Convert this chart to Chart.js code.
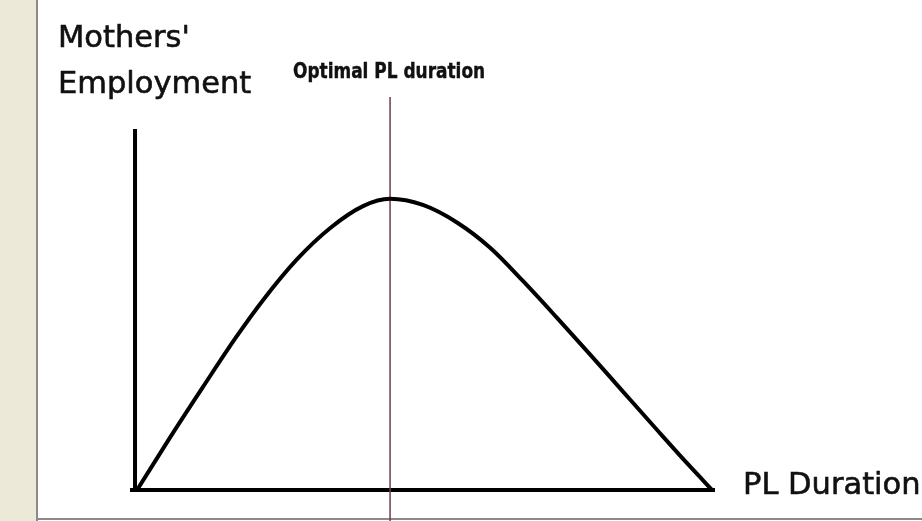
<!DOCTYPE html>
<html>
<head>
<meta charset="utf-8">
<script src="https://cdn.jsdelivr.net/npm/chart.js@4/dist/chart.umd.min.js"></script>
<style>
  html, body { margin: 0; padding: 0; background: #fff; }
  #frame { position: relative; width: 922px; height: 521px; overflow: hidden; background: #fff; }
  #strip { position: absolute; left: 0; top: 0; width: 36px; height: 521px; background: #ece9d9; border-right: 2px solid #8a8a8a; }
  #bottom { position: absolute; left: 36px; top: 518px; width: 886px; height: 2px; background: #8a8a8a; }
  #chart { position: absolute; left: 0; top: 0; }
  .lbl { position: absolute; white-space: nowrap; color: #111; line-height: 1; }
  .big { font-family: "DejaVu Sans", sans-serif; font-size: 30.5px; -webkit-text-stroke: 0.6px #111; }
  .opt { font-family: "DejaVu Sans Condensed", "DejaVu Sans", sans-serif; font-weight: bold; font-size: 22px; transform-origin: 0 0; -webkit-text-stroke: 0.4px #111; }
</style>
</head>
<body>
<div id="frame">
  <div id="strip"></div>
  <div id="bottom"></div>
  <canvas id="chart" width="922" height="521"></canvas>
  <div class="lbl big" style="left:58px; top:22px;">Mothers'</div>
  <div class="lbl big" style="left:58px; top:68px;">Employment</div>
  <div class="lbl opt" id="optLabel" style="left:293px; top:60px;">Optimal PL duration</div>
  <div class="lbl big" style="left:743px; top:469px;">PL Duration</div>
</div>
<script>
// curve: PL duration (0-100) vs mothers' employment (peak = 100)
const durations = [0, 5.7, 11.5, 17.2, 21.9, 27.8, 33.6, 39.3, 44, 49.7, 55.7, 61.4, 67.1, 73.0, 78.8, 84.5, 90.4, 96.2, 100];
const employment = [0, 17.9, 35.5, 52.4, 65.2, 79.2, 90.0, 97.5, 100, 97.9, 91.8, 83.2, 71.8, 59.2, 46.5, 33.8, 20.7, 8.0, 0];
const optimalDuration = 44;

// squeeze the narrow label to its width in the picture
const optLabel = document.getElementById("optLabel");
optLabel.style.transform = `scaleX(${192 / optLabel.offsetWidth})`;

// axes and the "optimal" marker line, drawn from the chart's own scales
const sketchAxes = {
  id: "sketchAxes",
  beforeDatasetsDraw(chart) {
    const { ctx, chartArea, scales } = chart;
    const x0 = scales.x.getPixelForValue(0);
    const y0 = scales.y.getPixelForValue(0);
    const xOpt = scales.x.getPixelForValue(optimalDuration);

    ctx.save();
    ctx.strokeStyle = "#000";
    ctx.lineWidth = 4;
    ctx.beginPath();
    ctx.moveTo(x0 - 2, chartArea.top);
    ctx.lineTo(x0 - 2, y0 + 2);
    ctx.moveTo(x0 - 7, y0);
    ctx.lineTo(chartArea.right, y0);
    ctx.stroke();

    ctx.strokeStyle = "#6e3d4c";
    ctx.lineWidth = 1.5;
    ctx.beginPath();
    ctx.moveTo(xOpt, chartArea.top - 32);
    ctx.lineTo(xOpt, chart.height);
    ctx.stroke();
    ctx.restore();
  },
};

new Chart(document.getElementById("chart"), {
  type: "line",
  data: {
    datasets: [
      {
        label: "Mothers' employment",
        data: durations.map((d, i) => ({ x: d, y: employment[i] })),
        borderColor: "#000",
        borderWidth: 4,
        pointRadius: 0,
        cubicInterpolationMode: "monotone",
        fill: false,
      },
    ],
  },
  options: {
    responsive: false,
    animation: false,
    devicePixelRatio: 1,
    layout: { padding: { left: 133, right: 207, top: 129, bottom: 31 } },
    plugins: { legend: { display: false }, tooltip: { enabled: false } },
    scales: {
      x: { type: "linear", min: -0.7, max: 100.5, display: false },
      y: { min: 0, max: 124, display: false },
    },
  },
  plugins: [sketchAxes],
});
</script>
</body>
</html>
